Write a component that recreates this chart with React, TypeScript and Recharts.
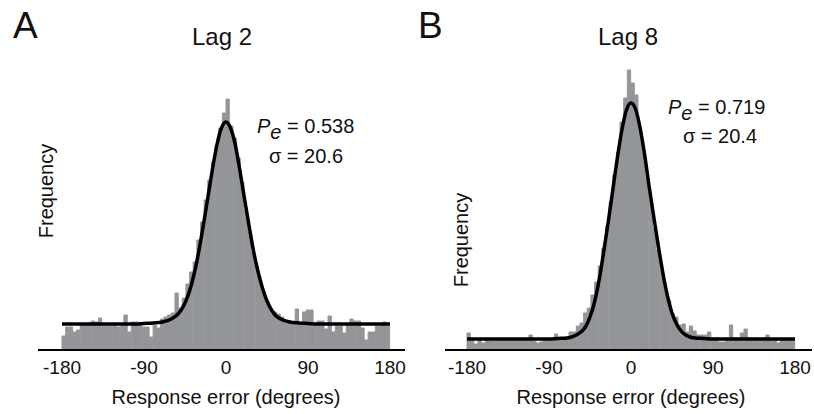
import React from 'react';
import { ComposedChart, Bar, Line, XAxis, YAxis } from 'recharts';

// 4-degree bins, centre of each bin
const binCenters = [
  -178, -174, -170, -166, -162, -158, -154, -150, -146, -142,
  -138, -134, -130, -126, -122, -118, -114, -110, -106, -102,
  -98, -94, -90, -86, -82, -78, -74, -70, -66, -62,
  -58, -54, -50, -46, -42, -38, -34, -30, -26, -22,
  -18, -14, -10, -6, -2, 2, 6, 10, 14, 18,
  22, 26, 30, 34, 38, 42, 46, 50, 54, 58,
  62, 66, 70, 74, 78, 82, 86, 90, 94, 98,
  102, 106, 110, 114, 118, 122, 126, 130, 134, 138,
  142, 146, 150, 154, 158, 162, 166, 170, 174, 178,
];

// Lag 2 histogram counts (arbitrary units)
const countsLag2 = [
  14, 23, 23, 18, 20, 25, 25, 27, 29, 28,
  32, 25, 24, 24, 25, 23, 24, 35, 18, 28,
  28, 27, 23, 23, 13, 25, 22, 31, 33, 35,
  37, 57, 42, 52, 66, 78, 88, 110, 128, 150,
  170, 188, 205, 222, 237, 251, 224, 212, 192, 168,
  140, 118, 98, 84, 66, 58, 48, 40, 38, 36,
  33, 27, 27, 28, 41, 27, 38, 40, 40, 27,
  29, 29, 21, 34, 18, 24, 24, 17, 24, 31,
  29, 29, 22, 10, 18, 18, 24, 24, 28, 24,
];

// Lag 8 histogram counts
const countsLag8 = [
  17, 9, 6, 10, 7, 10, 11, 9, 11, 10,
  10, 11, 10, 10, 11, 10, 11, 15, 9, 7,
  8, 10, 11, 11, 16, 10, 12, 13, 18, 18,
  24, 27, 37, 42, 55, 68, 84, 102, 124, 148,
  175, 198, 228, 252, 280, 267, 255, 222, 198, 172,
  150, 122, 100, 80, 60, 50, 36, 33, 25, 26,
  18, 24, 19, 15, 15, 15, 18, 12, 12, 8,
  8, 11, 25, 12, 12, 17, 21, 12, 11, 12,
  11, 12, 15, 11, 11, 7, 11, 10, 11, 11,
];

// fitted mixture curve
const curveDeg = [
  -180, -150, -120, -100, -90, -80, -70, -60, -55, -50, -45, -40, -35, -30, -25, -20, -15, -10, -5,
  0, 5, 10, 15, 20, 25, 30, 35, 40, 45, 50, 55, 60, 70, 80, 90, 100, 120, 150, 180,
];
const fitLag2 = [
  26, 26, 26, 26, 26.5, 27, 28, 31, 34, 39, 47, 59, 76, 98, 124, 152, 180, 205, 222,
  228, 222, 206, 181, 153, 126, 100, 79, 62, 49, 40, 34, 31, 28, 27, 26.5, 26, 26, 26, 26,
];
const fitLag8 = [
  11, 11, 11, 11, 11, 11.5, 12, 15, 18, 23, 33, 48, 70, 98, 128, 160, 192, 220, 240,
  247, 241, 222, 195, 163, 133, 104, 77, 54, 37, 26, 19, 15, 12, 11.5, 11, 11, 11, 11, 11,
];

const xTicks = [-180, -90, 0, 90, 180];

const FONT = '"Liberation Sans", Arial, Helvetica, sans-serif';
const BAR = '#939598';

interface PanelProps {
  counts: number[];
  fit: number[];
  left: number;
  width: number;
  margin: { top: number; right: number; bottom: number; left: number };
  pad: { left: number; right: number };
}

const Panel: React.FC<PanelProps> = ({ counts, fit, left, width, margin, pad }) => {
  const bars = binCenters.map((b, i) => ({ bin: b, count: counts[i] }));
  const curve = curveDeg.map((d, i) => ({ deg: d, fit: fit[i] }));
  return (
    <div style={{ position: 'absolute', left, top: 0 }}>
      <ComposedChart width={width} height={414} data={bars} margin={margin} barCategoryGap={0} barGap={0}>
        <XAxis
          xAxisId="deg"
          dataKey="deg"
          type="number"
          domain={[-180, 180]}
          allowDataOverflow
          ticks={xTicks}
          interval={0}
          padding={pad}
          height={30}
          axisLine={{ stroke: '#000', strokeWidth: 2 }}
          tickLine={false}
          tickSize={6}
          tickMargin={5}
          tick={{ fill: '#111', fontSize: 19 }}
        />
        <XAxis xAxisId="bins" dataKey="bin" type="category" hide height={0} padding={pad} />
        <YAxis hide domain={[0, 290]} allowDataOverflow />
        <Bar
          xAxisId="bins"
          dataKey="count"
          fill={BAR}
          stroke={BAR}
          strokeWidth={1}
          barSize={3.9}
          isAnimationActive={false}
        />
        <Line
          xAxisId="deg"
          data={curve}
          dataKey="fit"
          type="monotone"
          stroke="#000"
          strokeWidth={3.5}
          dot={false}
          isAnimationActive={false}
        />
      </ComposedChart>
    </div>
  );
};

export default function App() {
  return (
    <div style={{ position: 'absolute', left: 0, top: 0, width: 814, height: 414, background: '#fff', fontFamily: FONT }}>
      <Panel
        counts={countsLag2}
        fit={fitLag2}
        left={0}
        width={410}
        margin={{ top: 60, right: 5, bottom: 34, left: 38 }}
        pad={{ left: 24, right: 15 }}
      />
      <Panel
        counts={countsLag8}
        fit={fitLag8}
        left={407}
        width={407}
        margin={{ top: 60, right: 2, bottom: 34, left: 38 }}
        pad={{ left: 22, right: 17 }}
      />
      <svg width={814} height={414} style={{ position: 'absolute', left: 0, top: 0, pointerEvents: 'none' }} fontFamily={FONT} fill="#111">
        <text x={13} y={38} fontSize={37}>A</text>
        <text x={418} y={38} fontSize={37}>B</text>
        <text x={222} y={45} fontSize={24} textAnchor="middle">Lag 2</text>
        <text x={628} y={45} fontSize={24} textAnchor="middle">Lag 8</text>

        <text x={257} y={133} fontSize={20}>
          <tspan fontStyle="italic">P</tspan>
          <tspan fontStyle="italic" dy={6}>e</tspan>
          <tspan dy={-6}> = 0.538</tspan>
        </text>
        <text x={306} y={163} fontSize={20} textAnchor="middle">σ = 20.6</text>

        <text x={668} y={114} fontSize={20}>
          <tspan fontStyle="italic">P</tspan>
          <tspan fontStyle="italic" dy={6}>e</tspan>
          <tspan dy={-6}> = 0.719</tspan>
        </text>
        <text x={720} y={143} fontSize={20} textAnchor="middle">σ = 20.4</text>

        <text x={53} y={191} fontSize={20} textAnchor="middle" transform="rotate(-90 53 191)">Frequency</text>
        <text x={468} y={240} fontSize={20} textAnchor="middle" transform="rotate(-90 468 240)">Frequency</text>

        <text x={226} y={404} fontSize={20} textAnchor="middle">Response error (degrees)</text>
        <text x={631} y={404} fontSize={20} textAnchor="middle">Response error (degrees)</text>
      </svg>
    </div>
  );
}
